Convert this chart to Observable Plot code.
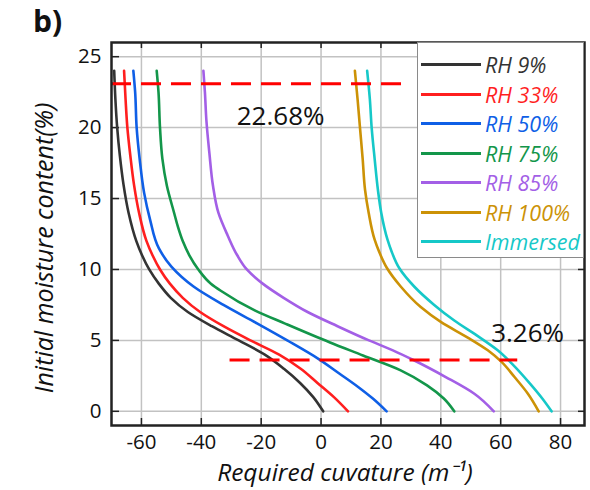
<!DOCTYPE html>
<html>
<head>
<meta charset="utf-8">
<script src="https://cdn.jsdelivr.net/npm/d3@7"></script>
<script src="https://cdn.jsdelivr.net/npm/@observablehq/plot@0.6"></script>
<style>
  body { margin: 0; background: white; }
  #wrap { position: relative; width: 590px; height: 490px; font-family: "Open Sans", sans-serif; }
  #wrap svg { position: absolute; left: 0; top: 0; }
  #panel { position: absolute; left: 33px; top: 6px; font-size: 30px; font-weight: bold; line-height: 1; color: #111; }
  #legend { position: absolute; left: 417px; top: 42px; width: 165px; height: 214px; background: white; border: 1.5px solid #8a8a8a; }
  .item { position: absolute; left: 0; height: 26px; }
  .item .sw { position: absolute; left: 3px; top: 11px; width: 60px; height: 3px; }
  .item .lb { position: absolute; left: 67px; top: 0; font-size: 21.5px; font-style: italic; line-height: 26px; white-space: nowrap; }
</style>
</head>
<body>
<div id="wrap"></div>
<script>
// Series: [initial moisture content (%), required curvature (m^-1)]
const rh9 = [[24,-69.1],[22,-68.7],[20,-68.1],[18,-67.2],[16,-66.0],[14,-64.3],[12,-61.7],[11,-59.8],[10,-57.4],[9,-54.2],[8,-50.2],[7,-44.5],[6,-36.5],[5,-27.5],[4,-18.8],[3,-12.4],[2,-7.0],[1,-2.6],[0,0.7]];
const rh33 = [[24,-65.8],[22,-65.3],[20,-64.7],[18,-63.7],[16,-62.5],[14,-60.8],[12,-58.3],[11,-56.3],[10,-53.8],[9,-50.5],[8,-46.2],[7,-40.4],[6,-32.6],[5,-23.6],[4,-14.0],[3,-6.8],[2,-1.2],[1,4.3],[0,9.0]];
const rh50 = [[24,-62.7],[22.5,-62.1],[20,-61.6],[17.8,-60.6],[15.4,-59.1],[13.5,-57.1],[11.5,-54.2],[10.2,-50.0],[8.8,-42.6],[7.5,-32.6],[6.2,-21.4],[5,-11.3],[3.7,-0.9],[2.65,6.2],[1.7,12.5],[0.9,17.3],[0,21.9]];
const rh75 = [[24,-54.9],[22.5,-54.3],[20,-53.8],[17.8,-53.0],[15.9,-51.5],[14,-49.1],[13,-47.8],[12,-46.2],[11,-44.0],[10,-41.0],[9,-36.8],[8.5,-33.5],[7.1,-22.0],[6.2,-12.2],[4.85,3.0],[3.94,14.0],[2.89,26.6],[1.83,35.4],[0.9,41.0],[0,44.5]];
const rh85 = [[24,-39.3],[22.5,-38.8],[20.5,-38.3],[18.2,-37.3],[15.9,-36.1],[14,-34.3],[12.4,-31.2],[11,-28.0],[10,-24.8],[9,-19.5],[8,-12.5],[7,-4.5],[6,5.5],[5,16.0],[4.3,24.0],[3.6,31.0],[2.4,41.8],[1.24,51.2],[0,57.7]];
const rh100 = [[24,11.3],[22,12.2],[20,13.0],[17.8,13.9],[15.6,14.7],[14,15.9],[12.1,17.9],[11.3,19.3],[10.1,22.0],[8.8,26.6],[7.35,33.3],[6.3,40.0],[5.2,49.0],[4.3,55.7],[3.5,60.2],[2.4,64.7],[1.24,69.1],[0,72.7]];
const immersed = [[24,15.4],[22,16.3],[20,16.9],[17.8,17.9],[15.6,19.0],[14,20.1],[12.1,22.2],[11.3,23.5],[10.1,26.1],[8.8,31.1],[7.5,37.8],[6.4,44.5],[5.35,52.0],[4.3,59.0],[3.24,64.3],[1.95,69.8],[0.9,73.9],[0,77.0]];

const seriesNames = ["RH 9%","RH 33%","RH 50%","RH 75%","RH 85%","RH 100%","Immersed"];
const seriesColors = ["#333333","#ff1f1f","#0f5fe6","#13964a","#a35fe6","#cc9206","#16c8c8"];
const seriesPoints = [rh9, rh33, rh50, rh75, rh85, rh100, immersed];

const xTicks = [-60,-40,-20,0,20,40,60,80];
const yTicks = [0,5,10,15,20,25];

// dashed threshold lines and their labels
const dashY = [23.1, 3.62];
const dashX1 = [-70, -30.4];
const dashX2 = [27, 65.7];
const labelText = ["22.68%", "3.26%"];
const labelX = [-13.5, 69.0];
const labelY = [20.8, 5.5];

const data = seriesNames.flatMap((name, i) =>
  seriesPoints[i].map(([m, c]) => ({series: name, m, c})).reverse());
const dashes = dashY.map((y, i) => ({y, x1: dashX1[i], x2: dashX2[i]}));
const labels = labelText.map((t, i) => ({t, x: labelX[i], y: labelY[i]}));

const W = 590, H = 490, mL = 111, mR = 6, mT = 42, mB = 65;
const fw = W - mL - mR, fh = H - mT - mB;

const chart = Plot.plot({
  width: W, height: H,
  marginLeft: mL, marginRight: mR, marginTop: mT, marginBottom: mB,
  style: {fontFamily: "'Open Sans', sans-serif", fontSize: "20px", background: "white", color: "#111"},
  x: {domain: [-70, 88]},
  y: {domain: [-1, 26]},
  color: {domain: seriesNames, range: seriesColors},
  marks: [
    Plot.gridX(xTicks, {stroke: "#c2c2c2", strokeOpacity: 1, strokeWidth: 1.5}),
    Plot.gridY(yTicks, {stroke: "#c2c2c2", strokeOpacity: 1, strokeWidth: 1.5}),
    Plot.axisX(xTicks, {tickSize: 0, tickPadding: 9, label: null, tickFormat: d => String(d), fontSize: 20.5, fill: "#111"}),
    Plot.axisY(yTicks, {tickSize: 0, tickPadding: 10, label: null, tickFormat: d => String(d), fontSize: 20.5, fill: "#111"}),
    Plot.tickX(xTicks, {x: d => d, insetTop: fh - 7, stroke: "#222", strokeWidth: 1.5}),
    Plot.tickX(xTicks, {x: d => d, insetBottom: fh - 6, stroke: "#222", strokeWidth: 1.5}),
    Plot.tickY(yTicks, {y: d => d, insetRight: fw - 8, stroke: "#222", strokeWidth: 1.5}),
    Plot.tickY(yTicks, {y: d => d, insetLeft: fw - 6, stroke: "#222", strokeWidth: 1.5}),
    Plot.line(data, {x: "c", y: "m", z: "series", stroke: "series", strokeWidth: 2.6, curve: "monotone-y"}),
    Plot.ruleY(dashes, {y: "y", x1: "x1", x2: "x2", stroke: "#ff0000", strokeWidth: 3, strokeDasharray: "20,10"}),
    Plot.text(labels, {x: "x", y: "y", text: "t", fontSize: 26, fill: "#111", textAnchor: "middle", lineAnchor: "middle"}),
    Plot.frame({stroke: "#222", strokeWidth: 2.5}),
    Plot.text(["Initial moisture content(%)"], {frameAnchor: "left", rotate: -90, dx: -67, dy: 14, textAnchor: "middle", lineAnchor: "middle", fontSize: 25, fontStyle: "italic", fill: "#111"}),
    Plot.text(["Required cuvature (m⁻¹)"], {frameAnchor: "bottom", dx: -3, dy: 48, textAnchor: "middle", lineAnchor: "middle", fontSize: 24.5, fontStyle: "italic", fill: "#111"})
  ]
});

const wrap = document.getElementById("wrap");
wrap.appendChild(chart);

const panel = document.createElement("div");
panel.id = "panel";
panel.textContent = "b)";
wrap.appendChild(panel);

const legend = document.createElement("div");
legend.id = "legend";
seriesNames.forEach((name, i) => {
  const item = document.createElement("div");
  item.className = "item";
  item.style.top = (9 + i * 29.5) + "px";
  const sw = document.createElement("div");
  sw.className = "sw";
  sw.style.background = seriesColors[i];
  const lb = document.createElement("div");
  lb.className = "lb";
  lb.style.color = seriesColors[i];
  lb.textContent = name;
  item.appendChild(sw);
  item.appendChild(lb);
  legend.appendChild(item);
});
wrap.appendChild(legend);
</script>
</body>
</html>
